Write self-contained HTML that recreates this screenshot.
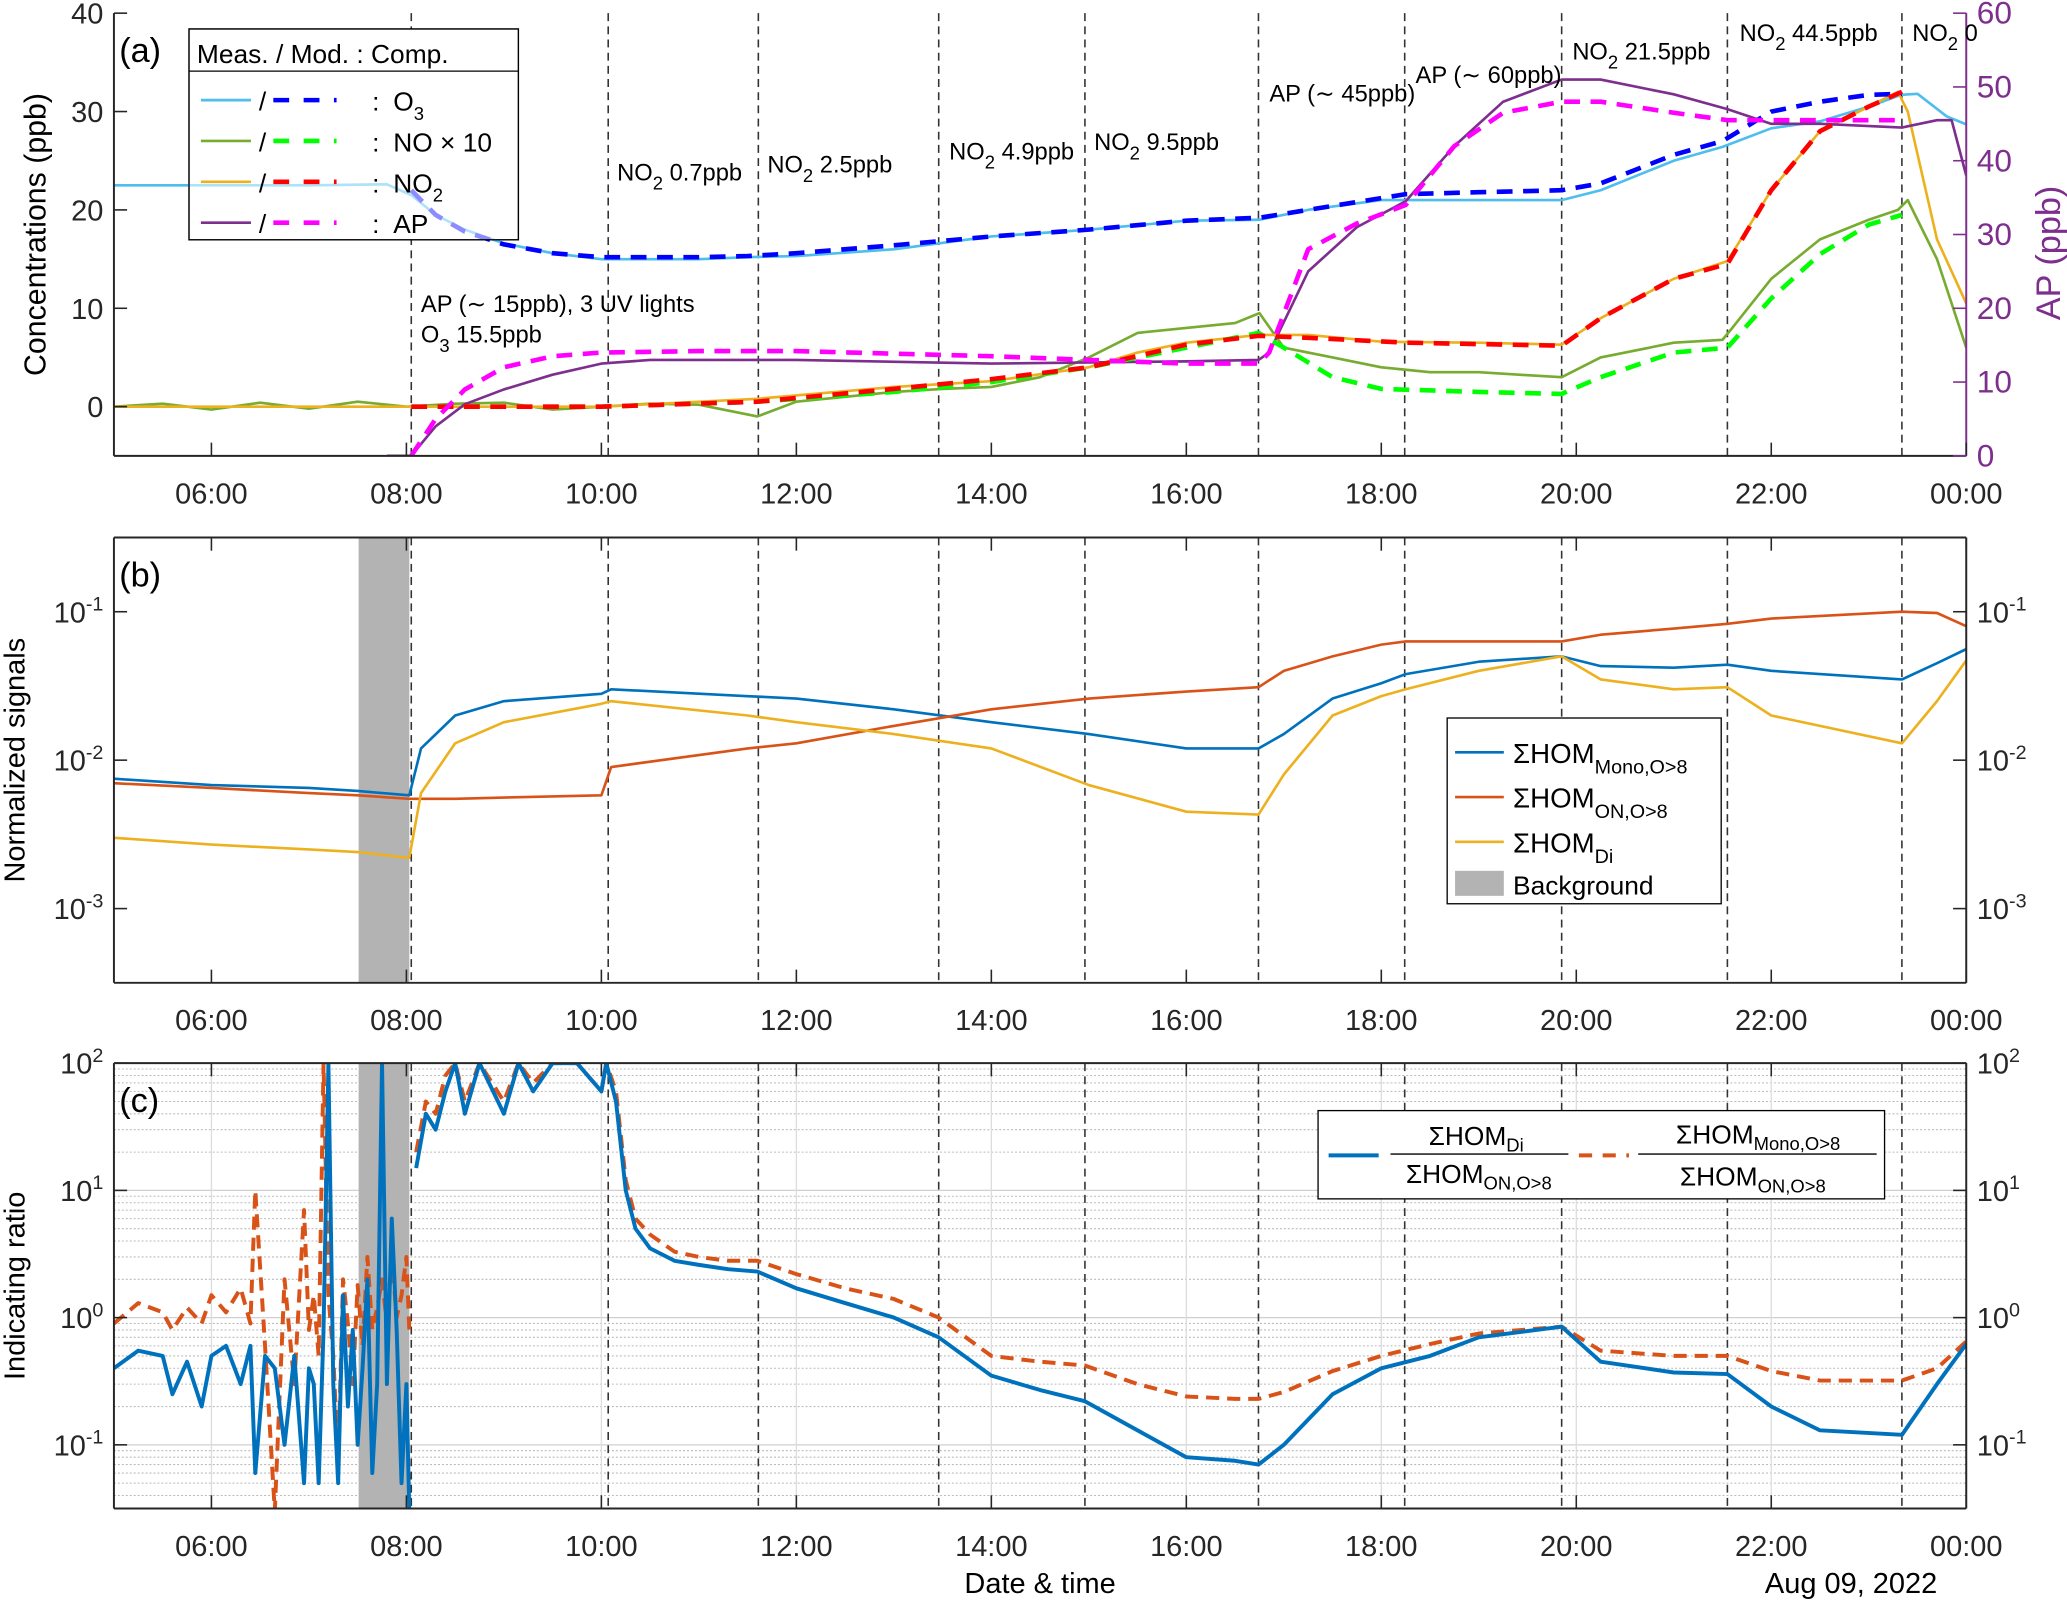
<!DOCTYPE html>
<html><head><meta charset="utf-8">
<style>html,body{margin:0;padding:0;background:#fff}svg{display:block}text{font-family:"Liberation Sans",sans-serif}</style>
</head><body>
<svg id="fig" width="2067" height="1602" viewBox="0 0 1568 1216" xmlns="http://www.w3.org/2000/svg"></svg>
<script>
// ---------- shared ----------
const xTickLabels=["06:00","08:00","10:00","12:00","14:00","16:00","18:00","20:00","22:00","00:00"];
const xTickHours=[6,8,10,12,14,16,18,20,22,24];
const eventHours=[8.05,10.07,11.61,13.46,14.96,16.74,18.24,19.85,21.55,23.34];
const bgStart=7.51, bgEnd=8.03;
// ---------- panel a ----------
const o3Time=[5,6,7,7.8,8.05,8.3,8.6,9,9.5,10,11,11.5,12,13,14,15,16,16.75,17.25,18,18.25,19,19.85,20.25,21,21.5,22,22.5,23,23.33,23.5,23.8,24];
const o3Meas=[22.5,22.5,22.5,22.6,21.5,19.5,18,16.6,15.6,15,15,15.2,15.3,16,17.3,18,18.9,19,20,21,21,21,21,22,25,26.4,28.3,29,30.5,31.7,31.8,29.5,28.7];
const o3ModT=[8.05,8.3,8.6,9,9.5,10,11,11.5,12,13,14,15,16,16.75,17.5,18.25,19,19.85,20.25,21,21.5,22,22.5,23,23.34];
const o3Mod=[22,19.5,17.8,16.5,15.6,15.2,15.2,15.3,15.6,16.4,17.3,18,18.9,19.2,20.4,21.6,21.8,22,22.7,25.6,27,30,31,31.7,31.8];
const noTime=[5,5.5,6,6.5,7,7.5,8,8.5,9,9.5,10,10.5,11,11.6,12,12.5,13,13.5,14,14.5,15,15.5,16,16.5,16.75,17,17.5,18,18.5,19,19.5,19.85,20.25,20.75,21,21.5,21.6,22,22.5,23,23.3,23.4,23.7,24];
const noMeas=[0,0.3,-0.3,0.4,-0.2,0.5,0,0.3,0.4,-0.3,0,0.3,0.2,-1,0.5,1,1.5,1.8,2,3,5,7.5,8,8.5,9.5,6,5,4,3.5,3.5,3.2,3,5,6,6.5,6.8,8,13,17,19,20,21,15,6];
const noModT=[8.05,10,11.6,13,14,15,16,16.74,17,17.5,18,19,19.85,20.25,21,21.55,22,22.5,23,23.34];
const noMod=[0,0,0.5,1.5,2.5,4,6,7.5,6,3,1.8,1.5,1.3,3,5.5,6,11,15.5,18.5,19.5];
const no2Time=[5,8,10,11.6,13,14,15,15.5,16,16.74,17.25,18,19,19.85,20.25,21,21.55,22,22.5,23,23.3,23.4,23.7,24];
const no2Meas=[0,0,0,0.8,2,2.6,4,5.5,6.5,7.3,7.3,6.6,6.5,6.3,9,13,14.8,22,28,30.5,32,30,17,10.5];
const no2ModT=[8.05,10,11.6,13,14,15,16,16.74,17.25,18.25,19.85,20.25,21,21.55,22,22.5,23,23.34];
const no2Mod=[0,0,0.5,1.8,2.8,4,6.3,7.2,7,6.5,6.2,9,13,14.5,22,28,30.5,32];
const apTime=[7.8,8.05,8.3,8.6,9,9.5,10,10.5,11,12,14,16,16.74,16.85,17.25,17.75,18.25,18.75,19.25,19.85,20.25,21,21.55,22,22.5,23.34,23.7,23.85,24];
const apMeas=[0,0,4,7,9,11,12.5,13,13,13,12.5,12.8,13,14,25,31,34.5,42,48,51,51,49,47,45,45,44.5,45.5,45.5,38];
const apModT=[8.05,8.3,8.6,9,9.5,10,11,12,14,16,16.74,16.85,17.25,17.75,18.25,18.75,19.25,19.85,20.25,21,21.55,22,23.34];
const apMod=[0,5,9,12,13.5,14,14.2,14.2,13.5,12.5,12.5,14,28,31.5,34,42,46.5,48,48,46.5,45.5,45.5,45.5];
// ---------- panel b ----------
const hbTime=[5,6,7,7.5,8.03,8.15,8.5,9,10,10.1,11.5,12,13,14,15,16,16.74,17,17.5,18,18.25,19,19.85,20.25,21,21.55,22,23.34,23.7,24];
const monoSig=[0.0075,0.0068,0.0065,0.0062,0.0058,0.012,0.02,0.025,0.028,0.03,0.027,0.026,0.022,0.018,0.015,0.012,0.012,0.015,0.026,0.033,0.038,0.046,0.05,0.043,0.042,0.044,0.04,0.035,0.045,0.056];
const onSig=[0.007,0.0065,0.006,0.0058,0.0055,0.0055,0.0055,0.0056,0.0058,0.009,0.012,0.013,0.017,0.022,0.026,0.029,0.031,0.04,0.05,0.06,0.063,0.063,0.063,0.07,0.077,0.083,0.09,0.1,0.098,0.08];
const diSig=[0.003,0.0027,0.0025,0.0024,0.0022,0.006,0.013,0.018,0.024,0.025,0.02,0.018,0.015,0.012,0.0068,0.0045,0.0043,0.008,0.02,0.027,0.03,0.04,0.05,0.035,0.03,0.031,0.02,0.013,0.025,0.047];
// ---------- panel c ----------
const rTimeA=[5,5.25,5.5,5.6,5.75,5.9,6,6.15,6.3,6.4,6.45,6.55,6.65,6.75,6.85,6.95,7,7.05,7.1,7.15,7.2,7.25,7.3,7.35,7.4,7.45,7.5,7.55,7.6,7.65,7.7,7.75,7.8,7.85,7.9,7.95,8.0,8.03];
const ratioDiA=[0.4,0.55,0.5,0.25,0.45,0.2,0.5,0.6,0.3,0.6,0.06,0.5,0.4,0.1,0.5,0.05,0.4,0.3,0.05,0.8,100,0.3,0.05,1.5,0.2,0.8,0.1,0.4,2,0.06,0.3,100,0.3,6,0.8,0.05,0.3,0.03];
const ratioMonoA=[0.9,1.3,1.1,0.8,1.2,0.9,1.5,1.1,1.7,0.9,10,0.6,0.03,2,0.3,7,0.8,1.5,0.5,100,1.5,0.5,0.07,2,0.9,0.3,1.8,0.6,3,0.8,1.2,2,0.9,3,1,1.5,3,0.8];
const rTimeB=[8.1,8.2,8.3,8.4,8.5,8.6,8.75,9,9.15,9.3,9.5,9.75,10,10.05,10.15,10.25,10.35,10.5,10.75,11,11.3,11.6,12,12.5,13,13.46,14,14.5,14.96,15.5,16,16.5,16.74,17,17.5,18,18.5,19,19.85,20.25,21,21.55,22,22.5,23.34,23.7,24];
const ratioDiB=[15,40,30,60,100,40,100,40,100,60,100,100,60,100,50,10,5,3.5,2.8,2.6,2.4,2.3,1.7,1.3,1.0,0.7,0.35,0.27,0.22,0.13,0.08,0.075,0.07,0.1,0.25,0.4,0.5,0.7,0.85,0.45,0.37,0.36,0.2,0.13,0.12,0.3,0.62];
const ratioMonoB=[20,50,40,80,100,50,100,50,100,70,100,100,60,100,60,12,6,4.5,3.3,3,2.8,2.8,2.2,1.7,1.4,1.0,0.5,0.45,0.42,0.3,0.24,0.23,0.23,0.26,0.38,0.5,0.62,0.75,0.85,0.55,0.5,0.5,0.38,0.32,0.32,0.4,0.65];
// ---------- geometry ----------
const L=86,R=1492;
const xs=h=>L+(h-5)*(R-L)/19;
const P={a:{t:10,b:346},b:{t:408,b:746},c:{t:807,b:1145}};
const ya=v=>P.a.b-(v+5)*(P.a.b-P.a.t)/45;
const yap=v=>P.a.b-v*(P.a.b-P.a.t)/60;
const yb=v=>P.b.b-(Math.log10(v)+3.5)*(P.b.b-P.b.t)/3;
const yc=v=>P.c.b-(Math.log10(v)+1.5)*(P.c.b-P.c.t)/3.5;
const svg=document.getElementById('fig');
const NS="http://www.w3.org/2000/svg";
function el(tag,attrs,parent){const e=document.createElementNS(NS,tag);for(const k in attrs)e.setAttribute(k,attrs[k]);(parent||svg).appendChild(e);return e;}
function txt(x,y,s,size,anchor,parent,fill){const t=el('text',{x:x,y:y,'font-size':size,'text-anchor':anchor||'start',fill:fill||'#000'},parent);t.innerHTML=s;return t;}
function pathD(T,V,fx,fy){return T.map((t,i)=>(i?'L':'M')+fx(t).toFixed(1)+','+fy(V[i]).toFixed(1)).join('');}
function clip(id,p){const d=el('clipPath',{id:id});el('rect',{x:L,y:p.t,width:R-L,height:p.b-p.t},d);}
clip('ca',P.a);clip('cb',P.b);clip('cc',P.c);

// ---------- panel c grids first ----------
const gc=el('g',{});


for(let d=-2;d<=1;d++){for(let m=1;m<10;m++){const v=m*Math.pow(10,d);const y=yc(v);if(y<P.c.t-0.5||y>P.c.b)continue;
 el('line',{x1:L,x2:R,y1:y,y2:y,stroke:m==1?'#d0d0d0':'#bbb','stroke-width':m==1?1:0.8,'stroke-dasharray':m==1?'':'1.5,1.5'},gc);}}
el('line',{x1:L,x2:R,y1:yc(100),y2:yc(100),stroke:'#d0d0d0'},gc);
xTickHours.forEach(h=>el('line',{x1:xs(h),x2:xs(h),y1:P.c.t,y2:P.c.b,stroke:'#ddd'},gc));

// background bands
['b','c'].forEach(k=>{const r=el('rect',{x:xs(bgStart),y:P[k].t,width:xs(bgEnd)-xs(bgStart),height:P[k].b-P[k].t,fill:'#b3b3b3'});
 });

// event lines
['a','b','c'].forEach(k=>{eventHours.forEach((h,i)=>{const l=el('line',{x1:xs(h),x2:xs(h),y1:P[k].t,y2:P[k].b,stroke:'#333','stroke-width':1.2,'stroke-dasharray':'6,4'});
 });});

function series(name,T,V,fx,fy,color,w,dash,cp){const p=el('path',{d:pathD(T,V,fx,fy),fill:'none',stroke:color,'stroke-width':w,'stroke-dasharray':dash||'','stroke-linejoin':'round','clip-path':'url(#'+cp+')'});
 return p;}

// legend a box (behind lines, semi-transparent like reference)
const lg=el('g',{});
el('rect',{x:143,y:22,width:250,height:160,fill:'#fff',stroke:'#000','stroke-width':1},lg);

// panel a series
series('o3-measured',o3Time,o3Meas,xs,ya,'#4dbeee',2,'','ca');
series('no-measured',noTime,noMeas,xs,ya,'#77ac30',2,'','ca');
series('no2-measured',no2Time,no2Meas,xs,ya,'#edb120',2,'','ca');
series('ap-measured',apTime,apMeas,xs,yap,'#7e2f8e',2,'','ca');
series('o3-model',o3ModT,o3Mod,xs,ya,'#0000ff',3.5,'12,8','ca');
series('no-model',noModT,noMod,xs,ya,'#00ff00',3.5,'12,8','ca');
series('no2-model',no2ModT,no2Mod,xs,ya,'#ff0000',3.5,'12,8','ca');
series('ap-model',apModT,apMod,xs,yap,'#ff00ff',3.5,'12,8','ca');
// panel b series
series('hom-mono-line',hbTime,monoSig,xs,yb,'#0072bd',2,'','cb');
series('hom-on-line',hbTime,onSig,xs,yb,'#d95319',2,'','cb');
series('hom-di-line',hbTime,diSig,xs,yb,'#edb120',2,'','cb');
// panel c series
series('ratio-mono-on-early',rTimeA,ratioMonoA,xs,yc,'#d95319',3,'10,6','cc');
series('ratio-di-on-early',rTimeA,ratioDiA,xs,yc,'#0072bd',3,'','cc');
series('ratio-mono-on',rTimeB,ratioMonoB,xs,yc,'#d95319',3,'10,6','cc');
series('ratio-di-on',rTimeB,ratioDiB,xs,yc,'#0072bd',3,'','cc');

// ---------- axes ----------
function frame(k,leftTicks,rightTicks,rightColor,top,rsize){
 const p=P[k];const g=el('g',{});
 
 el('line',{x1:L,x2:L,y1:p.t,y2:p.b,stroke:'#262626','stroke-width':1.5},g);
 el('line',{x1:L,x2:R,y1:p.b,y2:p.b,stroke:'#262626','stroke-width':1.5},g);
 el('line',{x1:R,x2:R,y1:p.t,y2:p.b,stroke:rightColor||'#262626','stroke-width':1.5},g);
 if(top)el('line',{x1:L,x2:R,y1:p.t,y2:p.t,stroke:'#262626','stroke-width':1.5},g);
 xTickHours.forEach((h,i)=>{el('line',{x1:xs(h),x2:xs(h),y1:p.b,y2:p.b-10,stroke:'#262626','stroke-width':1.2},g);
  if(top)el('line',{x1:xs(h),x2:xs(h),y1:p.t,y2:p.t+10,stroke:'#262626','stroke-width':1.2},g);
  const t=txt(xs(h),p.b+36,xTickLabels[i],22,'middle',g,'#262626');
  });
 leftTicks.forEach(o=>{el('line',{x1:L,x2:L+10,y1:o.y,y2:o.y,stroke:'#262626','stroke-width':1.2},g);
  const t=txt(L-8,o.y+8,o.s,22,'end',g,'#262626');});
 rightTicks.forEach(o=>{el('line',{x1:R,x2:R-10,y1:o.y,y2:o.y,stroke:rightColor||'#262626','stroke-width':1.2},g);
  const t=txt(R+8,o.y+8,o.s,rsize||22,'start',g,rightColor||'#262626');});
 return g;}
const aLeft=[0,10,20,30,40].map(v=>({y:ya(v),s:v}));
const aRight=[0,10,20,30,40,50,60].map(v=>({y:yap(v),s:v}));
frame('a',aLeft,aRight,'#7e2f8e',false,24);
const bT=[-1,-2,-3].map(e=>({y:yb(Math.pow(10,e)),s:'10<tspan dy="-9" font-size="15">'+e+'</tspan>'}));
frame('b',bT,bT,null,true);
const cT=[2,1,0,-1].map(e=>({y:yc(Math.pow(10,e)),s:'10<tspan dy="-9" font-size="15">'+e+'</tspan>'}));
frame('c',cT,cT,null,true);

// axis titles
let t;
t=txt(0,0,'Concentrations (ppb)',23,'middle');t.setAttribute('transform','translate(34,178) rotate(-90)');

t=txt(0,0,'AP (ppb)',26,'middle',null,'#7e2f8e');t.setAttribute('transform','translate(1563,192) rotate(-90)');

t=txt(0,0,'Normalized signals',22,'middle');t.setAttribute('transform','translate(18,577) rotate(-90)');

t=txt(0,0,'Indicating ratio',22,'middle');t.setAttribute('transform','translate(18,976) rotate(-90)');

t=txt(789,1209,'Date &amp; time',22,'middle');
t=txt(1470,1209,'Aug 09, 2022',22,'end');
// panel labels
[['(a)',90,47],['(b)',90,445],['(c)',90,844]].forEach(a=>{const q=txt(a[1],a[2],a[0],26,'start');});
// annotations
const sub=(s)=>'<tspan dy="7" font-size="14">'+s+'</tspan><tspan dy="-7"> </tspan>';
const anns=[[468,137,'NO'+sub('2')+'0.7ppb'],[582,131,'NO'+sub('2')+'2.5ppb'],[720,121,'NO'+sub('2')+'4.9ppb'],[830,114,'NO'+sub('2')+'9.5ppb'],
 [963,77,'AP (∼ 45ppb)'],[1074,63,'AP (∼ 60ppb)'],[1193,45,'NO'+sub('2')+'21.5ppb'],[1320,31,'NO'+sub('2')+'44.5ppb'],[1451,31,'NO'+sub('2')+'0'],
 [319,237,'AP (∼ 15ppb), 3 UV lights'],[319,260,'O'+sub('3')+'15.5ppb']];
anns.forEach((a,i)=>{const q=txt(a[0],a[1],a[2],18,'start');});

// legend a contents (on top)
const lg2=el('g',{});
el('rect',{x:143,y:22,width:250,height:160,fill:'#fff','fill-opacity':0.55,stroke:'#000','stroke-width':1},lg2);
el('line',{x1:143,x2:393,y1:54,y2:54,stroke:'#000'},lg2);
txt(149,48,'Meas. / Mod. :  Comp.',20,'start',lg2);
const la=[['#4dbeee','#0000ff','O'+sub('3')],['#77ac30','#00ff00','NO × 10'],['#edb120','#ff0000','NO'+sub('2')],['#7e2f8e','#ff00ff','AP']];
la.forEach((r,i)=>{const y=76+i*31;const e=el('g',{},lg2);
 el('line',{x1:152,x2:190,y1:y,y2:y,stroke:r[0],'stroke-width':2},e);txt(196,y+8,'/',20,'start',e);
 el('line',{x1:207,x2:255,y1:y,y2:y,stroke:r[1],'stroke-width':3.5,'stroke-dasharray':'12,11'},e);
 txt(282,y+8,':',20,'start',e);txt(298,y+8,r[2],20,'start',e);});
// legend b
const lb=el('g',{});
el('rect',{x:1098,y:545,width:208,height:141,fill:'#fff',stroke:'#000'},lb);
const lbe=[['#0072bd','Mono,O&gt;8'],['#d95319','ON,O&gt;8'],['#edb120','Di']];
lbe.forEach((r,i)=>{const y=571+i*34;const e=el('g',{},lb);
 el('line',{x1:1104,x2:1141,y1:y,y2:y,stroke:r[0],'stroke-width':2},e);
 txt(1148,y+8,'ΣHOM<tspan dy="8" font-size="15">'+r[1]+'</tspan>',21,'start',e);});
el('rect',{x:1104,y:661,width:37,height:19,fill:'#b3b3b3'},lb);txt(1148,679,'Background',20,'start',lb);
// legend c
const lc=el('g',{});
el('rect',{x:1000,y:843,width:430,height:67,fill:'#fff',stroke:'#000'},lc);
el('line',{x1:1008,x2:1046,y1:877,y2:877,stroke:'#0072bd','stroke-width':3},lc);
txt(1120,869,'ΣHOM<tspan dy="5" font-size="14">Di</tspan>',20,'middle',lc);
el('line',{x1:1055,x2:1190,y1:876,y2:876,stroke:'#000'},lc);
txt(1122,898,'ΣHOM<tspan dy="5" font-size="14">ON,O&gt;8</tspan>',20,'middle',lc);
el('line',{x1:1198,x2:1236,y1:877,y2:877,stroke:'#d95319','stroke-width':3,'stroke-dasharray':'10,8'},lc);
txt(1334,868,'ΣHOM<tspan dy="5" font-size="14">Mono,O&gt;8</tspan>',20,'middle',lc);
el('line',{x1:1243,x2:1424,y1:876,y2:876,stroke:'#000'},lc);
txt(1330,900,'ΣHOM<tspan dy="5" font-size="14">ON,O&gt;8</tspan>',20,'middle',lc);
</script>
</body></html>
